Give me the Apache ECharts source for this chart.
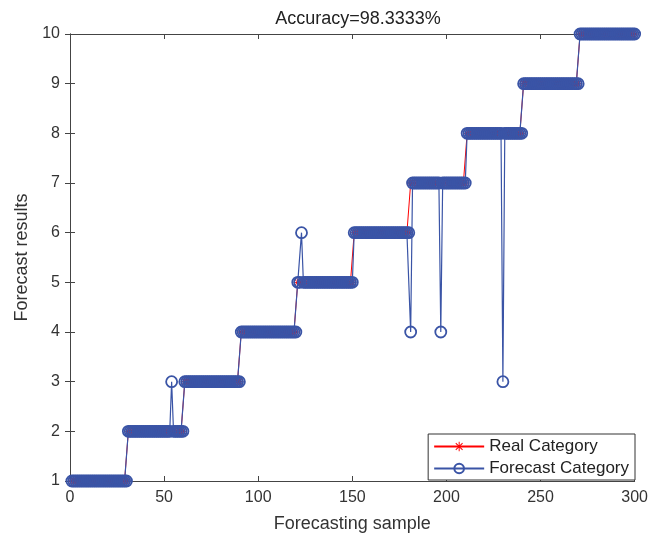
<!DOCTYPE html>
<html>
<head>
<meta charset="utf-8">
<script src="https://cdn.jsdelivr.net/npm/echarts@6/dist/echarts.min.js"></script>
<style>
  html, body { margin: 0; padding: 0; background: #fff; }
  #chart { width: 651px; height: 542px; }
</style>
</head>
<body>
<div id="chart"></div>
<script>
// real category: [class, number of samples]
var realRuns = [[1, 30], [2, 30], [3, 30], [4, 30], [5, 30], [6, 30], [7, 30], [8, 30], [9, 30], [10, 30]];
// misclassified samples: [sample index, predicted class]
var forecastErrors = [[54, 3], [123, 6], [181, 4], [197, 4], [230, 3]];
var xTicks = [0, 50, 100, 150, 200, 250, 300];
var yTicks = [1, 2, 3, 4, 5, 6, 7, 8, 9, 10];

var realData = [];
realRuns.forEach(function (r) {
  for (var k = 0; k < r[1]; k++) realData.push([realData.length + 1, r[0]]);
});
var forecastData = realData.map(function (p) { return [p[0], p[1]]; });
forecastErrors.forEach(function (e) { forecastData[e[0] - 1][1] = e[1]; });

var blue = "#3A54A6";
var axisColor = "#444";
var font = "Liberation Sans, Arial, sans-serif";
var asterisk = "path://M-1,-10L1,-10L1,10L-1,10Z M-10,-1L10,-1L10,1L-10,1Z M-7.78,-6.36L-6.36,-7.78L7.78,6.36L6.36,7.78Z M6.36,-7.78L7.78,-6.36L-6.36,7.78L-7.78,6.36Z";

var myChart = echarts.init(document.getElementById("chart"));

var option = {
  animation: false,
  title: {
    text: "Accuracy=98.3333%",
    left: 353,
    top: 5,
    textAlign: "center",
    textStyle: { fontFamily: font, fontSize: 18, fontWeight: "normal", color: "#222" }
  },
  grid: { left: 70, right: 15, top: 34, bottom: 61 },
  legend: {
    orient: "vertical",
    right: 16,
    bottom: 62,
    itemWidth: 50,
    itemHeight: 12,
    itemGap: 5,
    padding: [4, 6, 3, 5],
    borderColor: "#333",
    borderWidth: 1,
    backgroundColor: "#fff",
    textStyle: { fontFamily: font, fontSize: 17, color: "#222" },
    data: ["Real Category", "Forecast Category"]
  },
  xAxis: [
    {
      type: "value",
      min: xTicks[0],
      max: xTicks[xTicks.length - 1],
      interval: 50,
      name: "Forecasting sample",
      nameLocation: "middle",
      nameGap: 34,
      nameTextStyle: { fontFamily: font, fontSize: 18, color: "#333" },
      axisLine: { lineStyle: { color: axisColor } },
      axisTick: { inside: true, length: 5, lineStyle: { color: axisColor } },
      axisLabel: { fontFamily: font, fontSize: 16, color: "#333", margin: 9 },
      splitLine: { show: false }
    },
    {
      type: "value",
      position: "top",
      min: xTicks[0],
      max: xTicks[xTicks.length - 1],
      interval: 50,
      axisLine: { show: true, lineStyle: { color: axisColor } },
      axisTick: { show: true, inside: true, length: 5, lineStyle: { color: axisColor } },
      axisLabel: { show: false },
      splitLine: { show: false }
    }
  ],
  yAxis: [
    {
      type: "value",
      min: yTicks[0],
      max: yTicks[yTicks.length - 1],
      interval: 1,
      name: "Forecast results",
      nameLocation: "middle",
      nameGap: 38,
      nameTextStyle: { fontFamily: font, fontSize: 18, color: "#333" },
      axisLine: { show: true, lineStyle: { color: axisColor } },
      axisTick: { show: true, inside: true, length: 5, lineStyle: { color: axisColor } },
      axisLabel: { fontFamily: font, fontSize: 16, color: "#333", margin: 10 },
      splitLine: { show: false }
    },
    {
      type: "value",
      position: "right",
      min: yTicks[0],
      max: yTicks[yTicks.length - 1],
      interval: 1,
      axisLine: { show: true, lineStyle: { color: axisColor } },
      axisTick: { show: true, inside: true, length: 5, lineStyle: { color: axisColor } },
      axisLabel: { show: false },
      splitLine: { show: false }
    }
  ],
  series: [
    {
      name: "Real Category",
      type: "line",
      xAxisIndex: 0,
      yAxisIndex: 0,
      data: realData,
      symbol: asterisk,
      symbolSize: 8,
      showAllSymbol: true,
      lineStyle: { color: "#ff0000", width: 1 },
      itemStyle: { color: "#ff0000" },
      z: 2
    },
    {
      name: "Forecast Category",
      type: "line",
      xAxisIndex: 0,
      yAxisIndex: 0,
      data: forecastData,
      symbol: "circle",
      symbolSize: 11,
      showAllSymbol: true,
      lineStyle: { color: blue, width: 1.2 },
      itemStyle: { color: "rgba(255,255,255,0)", borderColor: blue, borderWidth: 1.8 },
      z: 3
    }
  ]
};

myChart.setOption(option);
</script>
</body>
</html>
